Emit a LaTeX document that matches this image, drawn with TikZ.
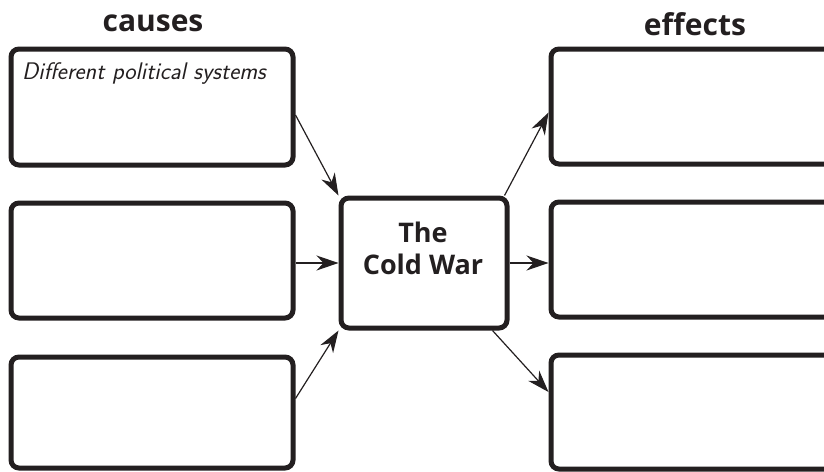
\documentclass[tikz,border=0pt]{standalone}
\usepackage{fontspec}
\setmainfont{Open Sans}
\usetikzlibrary{arrows.meta}
\definecolor{ink}{HTML}{231F20}
\begin{document}
\begin{tikzpicture}[x=1pt,y=-1pt,
  box/.style={draw=ink, line width=5pt, rounded corners=8pt, rectangle, inner sep=0pt, fill=white},
  conn/.style={draw=ink, line width=1.2pt, -{Stealth[length=22pt,width=15pt,inset=7pt]}},
  head/.style={font=\fontsize{30}{36}\selectfont\bfseries, text=ink, anchor=base, inner sep=0pt},
  ctext/.style={font=\fontsize{27}{32}\selectfont\bfseries, text=ink, anchor=base, inner sep=0pt},
  hand/.style={font=\fontsize{24}{28}\selectfont\sffamily\itshape, text=ink, anchor=base west, inner sep=0pt}]
\clip (0,0) rectangle (824,471);
% headings
\node[head] (H1) at (153,31) {causes};
\node[head] (H2) at (695,35) {effects};
% cause boxes
\node[box, minimum width=282pt, minimum height=116pt] (L1) at (152,107) {};
\node[box, minimum width=282pt, minimum height=115pt] (L2) at (152,260.5) {};
\node[box, minimum width=282pt, minimum height=111pt] (L3) at (152,412.5) {};
% centre
\node[box, minimum width=166pt, minimum height=130pt] (C) at (424,263) {};
\node[ctext] (CT1) at (423,242) {The};
\node[ctext] (CT2) at (423,274) {Cold War};
% effect boxes
\node[box, minimum width=300pt, minimum height=115pt] (R1) at (701,106.5) {};
\node[box, minimum width=300pt, minimum height=115pt] (R2) at (701,259.5) {};
\node[box, minimum width=300pt, minimum height=114pt] (R3) at (701,412) {};
% handwritten entry
\node[hand] (T1) at (22,79) {Different political systems};
% connectors
\draw[conn] ([yshift=-8pt]L1.east) -- (C.north west);
\draw[conn] (L2.east |- C.west) -- (C.west);
\draw[conn] ([yshift=14pt]L3.east) -- (C.south west);
\draw[conn] ([xshift=-5pt]C.north east) -- ([yshift=-6pt]R1.west);
\draw[conn] (C.east) -- (R2.west |- C.east);
\draw[conn] ([xshift=-17pt]C.south east) -- ([yshift=20pt]R3.west);
\end{tikzpicture}
\end{document}
